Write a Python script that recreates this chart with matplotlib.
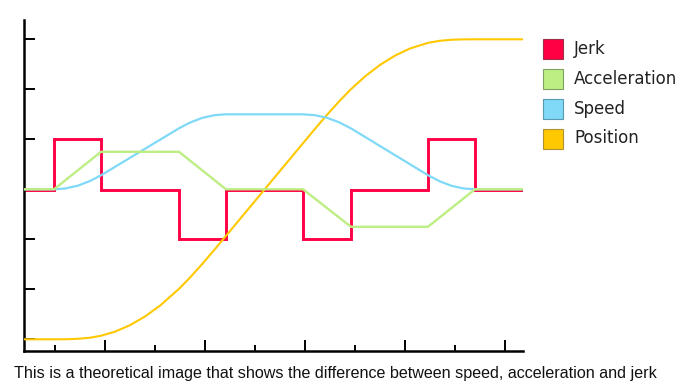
import matplotlib
matplotlib.use("Agg")
import matplotlib.pyplot as plt
from matplotlib.patches import Rectangle
from matplotlib.ticker import MultipleLocator

W, H = 698, 391

# jerk: step edges and levels
jerk_edges = [0.38, 0.98, 1.92, 3.48, 4.42, 5.96, 6.92, 8.46, 9.40, 10.36]
jerk_vals = [2.99, 4.0, 2.99, 2.0, 2.99, 2.0, 2.99, 4.0, 2.99]

# acceleration: corners of the trapezoid profile
acc_x = [0.38, 0.98, 1.92, 3.48, 4.42, 5.96, 6.92, 8.46, 9.40, 10.36]
acc_y = [3.0, 3.0, 3.75, 3.75, 3.0, 3.0, 2.25, 2.25, 3.0, 3.0]

# speed
speed_x = [0.38, 0.98, 1.20, 1.45, 1.70, 1.92, 3.48, 3.70, 3.95, 4.20, 4.42,
           5.96, 6.20, 6.44, 6.68, 6.92, 8.46, 8.70, 8.93, 9.17, 9.40, 10.36]
speed_y = [3.0, 3.0, 3.016, 3.07, 3.166, 3.28, 4.22, 4.334, 4.43, 4.484, 4.5,
           4.5, 4.482, 4.43, 4.341, 4.218, 3.282, 3.157, 3.07, 3.017, 3.0, 3.0]

# position
pos_x = [0.38, 0.98, 1.20, 1.45, 1.70, 1.92, 2.20, 2.50, 2.80, 3.10, 3.48,
         3.70, 3.95, 4.20, 4.42, 5.96, 6.20, 6.44, 6.68, 6.92, 7.20, 7.50,
         7.80, 8.10, 8.46, 8.70, 8.93, 9.17, 9.40, 10.36]
pos_y = [0.0, 0.0, 0.001, 0.009, 0.032, 0.071, 0.153, 0.283, 0.456, 0.673, 1.009,
         1.235, 1.512, 1.805, 2.069, 3.921, 4.209, 4.489, 4.756, 5.003, 5.257, 5.488,
         5.674, 5.816, 5.929, 5.971, 5.991, 5.999, 6.0, 6.0]

labels = ["Jerk", "Acceleration", "Speed", "Position"]
colors = ["#ff0044", "#bdee84", "#7fd9f7", "#ffc800"]
edges = ["#a0304a", "#7fa060", "#5a9ab0", "#b09030"]

fig = plt.figure(figsize=(W / 100, H / 100), dpi=100)
ax = fig.add_axes([24 / W, (H - 351) / H, (523 - 24) / W, (351 - 20) / H])

ax.stairs(jerk_vals, jerk_edges, baseline=None, color=colors[0], lw=2.1, zorder=2)
ax.plot(pos_x, pos_y, color=colors[3], lw=1.5, zorder=3)
ax.plot(speed_x, speed_y, color=colors[2], lw=1.6, zorder=4)
ax.plot(acc_x, acc_y, color=colors[1], lw=1.7, zorder=5)

ax.set_xlim(0.38, 10.36)
ax.set_ylim(-0.234, 6.386)
for s in ["top", "right"]:
    ax.spines[s].set_visible(False)
for s in ["left", "bottom"]:
    ax.spines[s].set_linewidth(1.8)

ax.xaxis.set_major_locator(MultipleLocator(2))
ax.xaxis.set_minor_locator(MultipleLocator(1))
ax.yaxis.set_major_locator(MultipleLocator(1))
ax.tick_params(axis="x", which="major", direction="in", length=7.6, width=1.4)
ax.tick_params(axis="x", which="minor", direction="in", length=4.2, width=1.4)
ax.tick_params(axis="y", direction="in", length=8.0, width=1.4)
ax.tick_params(labelbottom=False, labelleft=False)

# legend drawn by hand, in figure pixels
for i, (lab, c, ec) in enumerate(zip(labels, colors, edges)):
    top = 39.3 + 30 * i
    fig.patches.append(Rectangle((543.3 / W, 1 - (top + 20) / H), 20 / W, 20 / H,
                                 facecolor=c, edgecolor=ec, lw=0.8,
                                 transform=fig.transFigure))
    fig.text(574 / W, 1 - (top + 14.2) / H, lab, fontsize=12, color="#222222",
             va="baseline", ha="left")

fig.text(14 / W, 1 - 377.7 / H,
         "This is a theoretical image that shows the difference between speed, acceleration and jerk",
         family=["Liberation Sans Narrow", "Liberation Sans"], fontsize=11.6,
         va="baseline", ha="left", color="#111111")

fig.savefig("out.png", dpi=100)
